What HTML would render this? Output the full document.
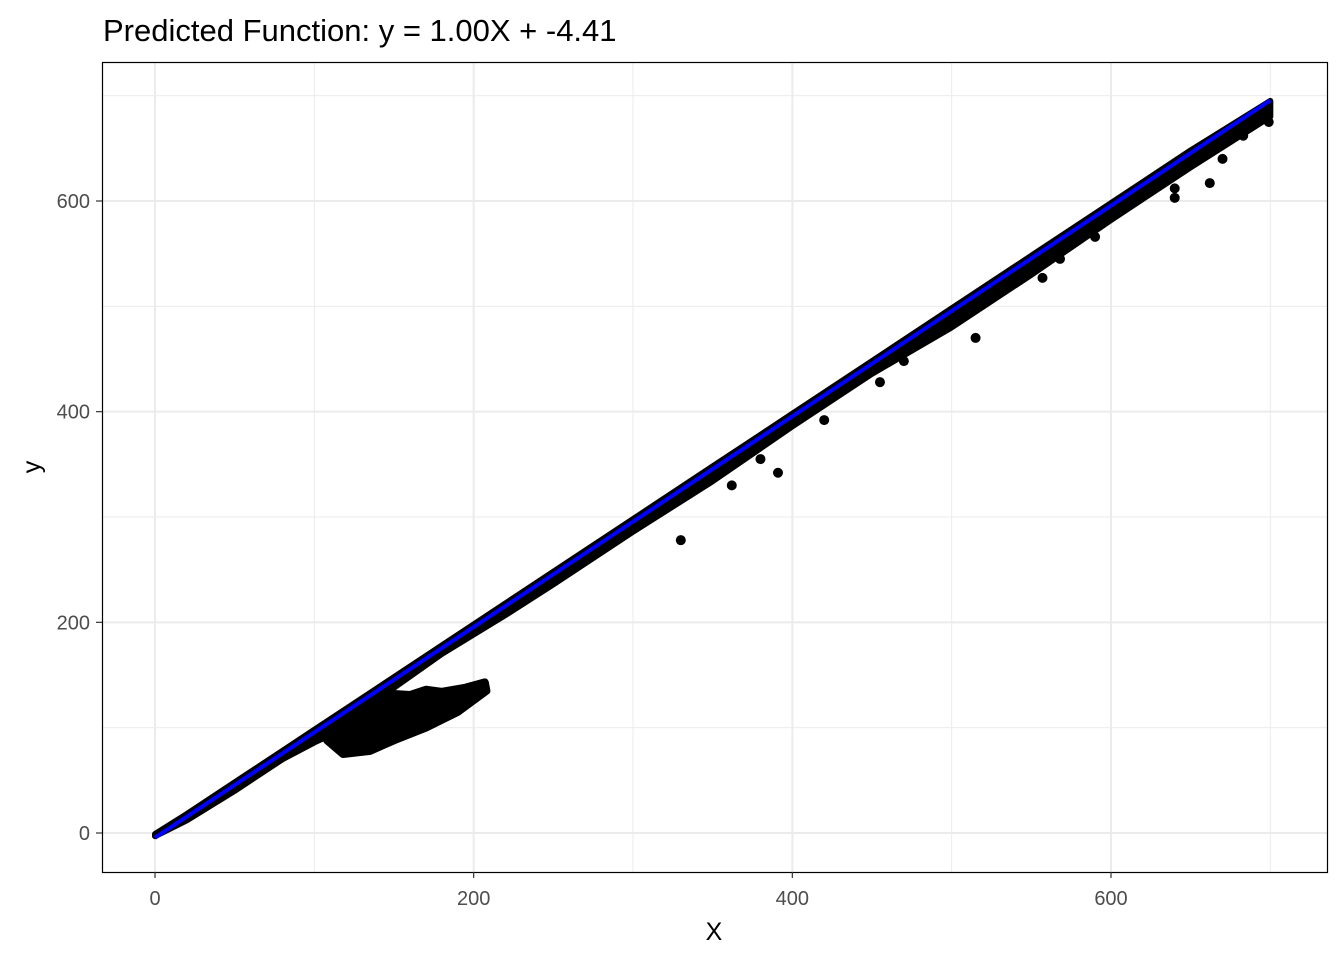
<!DOCTYPE html>
<html><head><meta charset="utf-8"><style>
html,body{margin:0;padding:0;background:#fff;}
svg{display:block;font-family:"Liberation Sans",Arial,sans-serif;}
</style></head><body>
<svg id="chart" width="1344" height="960" viewBox="0 0 1344 960">
<rect x="0" y="0" width="1344" height="960" fill="#fff"/>
<text x="103" y="41" font-size="31" fill="#000">Predicted Function: y = 1.00X + -4.41</text>
<g id="grid"></g>
<g id="marks"></g>
<rect x="102.5" y="62.5" width="1225" height="810" fill="none" stroke="#000" stroke-width="1.2"/>
<g id="axes"></g>
<text x="714" y="940" font-size="25" text-anchor="middle" fill="#000">X</text>
<text transform="translate(40,467) rotate(-90)" font-size="25" text-anchor="middle" fill="#000">y</text>
</svg>
<script>
const xTicks=[0,200,400,600];
const yTicks=[0,200,400,600];
const xMinor=[100,300,500,700];
const yMinor=[100,300,500,700];
const bandX=[0,20,50,80,100,120,150,180,220,250,300,350,400,450,500,550,600,650,700];
const bandUpper=[-1,18,48,78,98,118,148,178,218,248,298,348,398,448,498,548,598,648,695];
const bandLower=[-3,12,40,70,86,100,138,170,207,236,286,334,386,436,480,530,582,632,680];
const branchX=[108,118,135,150,170,190,208,207,195,180,170,160,150,135,120];
const branchY=[88,75,78,88,100,115,135,143,138,134,136,131,132,126,110];
const outX=[391,557,553,662,699,330,380,470,515,590,640,670,690,568,420,362,455,640,683];
const outY=[342,527,541,617,675,278,355,448,470,566,603,640,676,545,392,330,428,612,662];
const slope=1.00, intercept=-4.41, fitMin=0, fitMax=700;

const PX0=102,PX1=1328,PY0=62,PY1=872;
function sx(v){return 155+v*(1111-155)/600;}
function sy(v){return 833-v*(833-201)/600;}
const NS='http://www.w3.org/2000/svg';
function mk(tag,attrs,parent){const e=document.createElementNS(NS,tag);for(const k in attrs)e.setAttribute(k,attrs[k]);parent.appendChild(e);return e;}
const grid=document.getElementById('grid'),marks=document.getElementById('marks'),axes=document.getElementById('axes');
xMinor.forEach(v=>{const l=mk('line',{x1:sx(v),x2:sx(v),y1:PY0,y2:PY1,stroke:'#ebebeb','stroke-width':1},grid);

});
yMinor.forEach(v=>{const l=mk('line',{x1:PX0,x2:PX1,y1:sy(v),y2:sy(v),stroke:'#ebebeb','stroke-width':1},grid);

});
xTicks.forEach(v=>{const l=mk('line',{x1:sx(v),x2:sx(v),y1:PY0,y2:PY1,stroke:'#ebebeb','stroke-width':2},grid);


const t=mk('line',{x1:sx(v),x2:sx(v),y1:PY1,y2:PY1+6,stroke:'#333','stroke-width':1.2},axes);


const tx=mk('text',{x:sx(v),y:905,'font-size':20,'text-anchor':'middle',fill:'#4d4d4d'},axes);tx.textContent=v;

});
yTicks.forEach(v=>{const l=mk('line',{x1:PX0,x2:PX1,y1:sy(v),y2:sy(v),stroke:'#ebebeb','stroke-width':2},grid);


const t=mk('line',{x1:PX0-6,x2:PX0,y1:sy(v),y2:sy(v),stroke:'#333','stroke-width':1.2},axes);


const tx=mk('text',{x:PX0-12,y:sy(v)+7,'font-size':20,'text-anchor':'end',fill:'#4d4d4d'},axes);tx.textContent=v;

});
let pts=bandX.map((x,i)=>sx(x)+','+sy(bandUpper[i]));
for(let i=bandX.length-1;i>=0;i--)pts.push(sx(bandX[i])+','+sy(bandLower[i]));
const band=mk('polygon',{points:pts.join(' '),fill:'#000',stroke:'#000','stroke-width':6,'stroke-linejoin':'round'},marks);


const br=mk('polygon',{points:branchX.map((x,i)=>sx(x)+','+sy(branchY[i])).join(' '),fill:'#000',stroke:'#000','stroke-width':8,'stroke-linejoin':'round'},marks);


outX.forEach((x,i)=>{const c=mk('circle',{cx:sx(x),cy:sy(outY[i]),r:5,fill:'#000'},marks);

});
const fit=mk('line',{x1:sx(fitMin),y1:sy(slope*fitMin+intercept),x2:sx(fitMax),y2:sy(slope*fitMax+intercept),stroke:'#0000ff','stroke-width':4},marks);


</script>
</body></html>
